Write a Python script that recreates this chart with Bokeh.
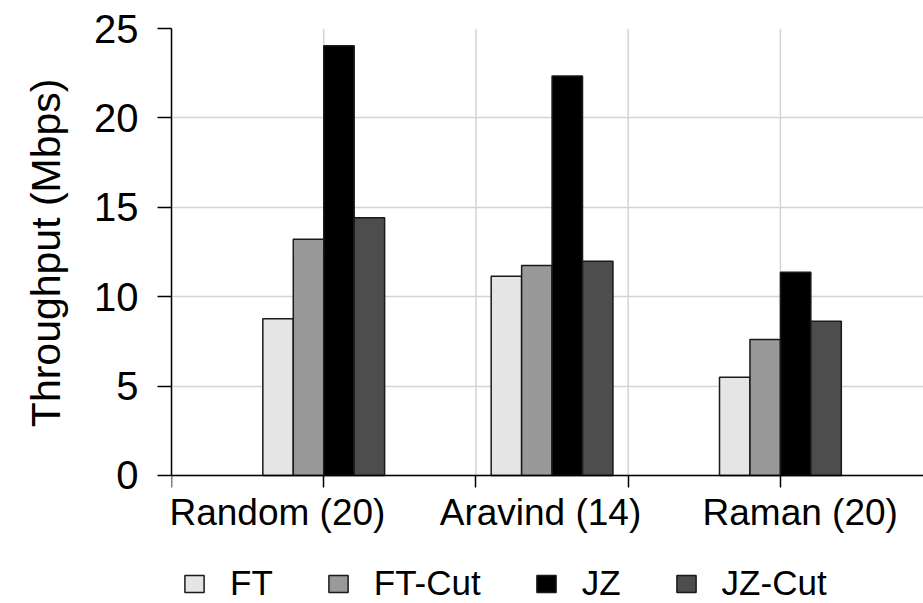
from bokeh.plotting import figure
from bokeh.models import ColumnDataSource, Range1d, FixedTicker
from bokeh.embed import file_html
from bokeh.resources import INLINE

# ---- data ----
categories = ["Random (20)", "Aravind (14)", "Raman (20)"]
series_names = ["FT", "FT-Cut", "JZ", "JZ-Cut"]
ft = [8.77, 11.14, 5.50]
ft_cut = [13.21, 11.74, 7.61]
jz = [24.04, 22.34, 11.37]
jz_cut = [14.41, 11.98, 8.62]
y_ticks = [0, 5, 10, 15, 20, 25]
y_title = "Throughput (Mbps)"

# ---- layout / style ----
group_pos = [1.0, 2.5, 4.0]
label_pos = [0.696, 2.424, 4.13]
x_ticks = [0, 1, 2, 3, 4, 5]
offsets = [-0.3, -0.1, 0.1, 0.3]
bar_w = 0.2
colors = ["#e5e5e5", "#999999", "#000000", "#4d4d4d"]
FONT = "Liberation Sans"
GRID = "#d4d4d4"

# frame spans the full lower part of the canvas; value axis is bounded to 0..25
p = figure(width=923, height=603, output_backend="svg", toolbar_location=None,
           x_range=Range1d(0, 4.94), y_range=Range1d(-7.159, 25),
           min_border_left=171, min_border_top=28, min_border_bottom=0,
           min_border_right=0, title=y_title, title_location="left")
p.outline_line_color = None
p.background_fill_color = "white"

# y title (as a left-side title, aligned near the top end of the frame)
p.title.align = "right"
p.title.offset = 50
p.title.vertical_align = "top"
p.title.text_font = FONT
p.title.text_font_size = "41px"
p.title.text_font_style = "normal"
p.title.text_color = "black"
p.title.standoff = 42

# vertical grid lines limited to the value range
p.segment(x0=x_ticks, y0=y_ticks[0], x1=x_ticks, y1=y_ticks[-1],
          line_color=GRID, line_width=1.5)

for vals, name, off, col in zip([ft, ft_cut, jz, jz_cut], series_names, offsets, colors):
    src = ColumnDataSource(dict(x=[g + off for g in group_pos], top=vals))
    p.vbar(x="x", top="top", bottom=0, width=bar_w, source=src,
           fill_color=col, line_color="#1a1a1a", line_width=1.5, legend_label=name)

# y axis
p.yaxis.ticker = FixedTicker(ticks=y_ticks)
p.yaxis.bounds = (y_ticks[0], y_ticks[-1])
p.yaxis.major_tick_out = 14
p.yaxis.major_tick_in = 0
p.yaxis.minor_tick_line_color = None
p.yaxis.major_label_standoff = 19
p.yaxis.major_label_text_font = FONT
p.yaxis.major_label_text_font_size = "40px"
p.yaxis.major_label_text_color = "black"
p.yaxis.axis_line_width = 1.5
p.yaxis.major_tick_line_width = 1.5

# x axis at value 0: labels on major ticks (no marks), tick marks as minor ticks
p.xaxis.fixed_location = 0
p.xaxis.ticker = FixedTicker(ticks=label_pos, minor_ticks=x_ticks)
p.xaxis.major_label_overrides = {pos: cat for pos, cat in zip(label_pos, categories)}
p.xaxis.major_tick_line_color = None
p.xaxis.major_tick_out = 0
p.xaxis.major_tick_in = 0
p.xaxis.minor_tick_line_color = "black"
p.xaxis.minor_tick_line_width = 1.5
p.xaxis.minor_tick_out = 12
p.xaxis.minor_tick_in = 0
p.xaxis.major_label_standoff = 5
p.xaxis.major_label_text_font = FONT
p.xaxis.major_label_text_font_size = "37px"
p.xaxis.major_label_text_color = "black"
p.xaxis.axis_line_width = 1.5

p.xgrid.visible = False
p.ygrid.ticker = FixedTicker(ticks=y_ticks)
p.ygrid.grid_line_color = GRID
p.ygrid.grid_line_width = 1.5

# legend at the bottom of the canvas
lg = p.legend[0]
lg.orientation = "horizontal"
lg.location = (11, 0)
lg.background_fill_alpha = 0
lg.border_line_alpha = 0
lg.padding = 0
lg.margin = 0
lg.spacing = 53
lg.glyph_width = 24
lg.glyph_height = 21
lg.label_standoff = 24
lg.label_width = 20
lg.label_text_font = FONT
lg.label_text_font_size = "35px"
lg.label_text_color = "black"

open("out.html", "w").write(file_html(p, INLINE))
